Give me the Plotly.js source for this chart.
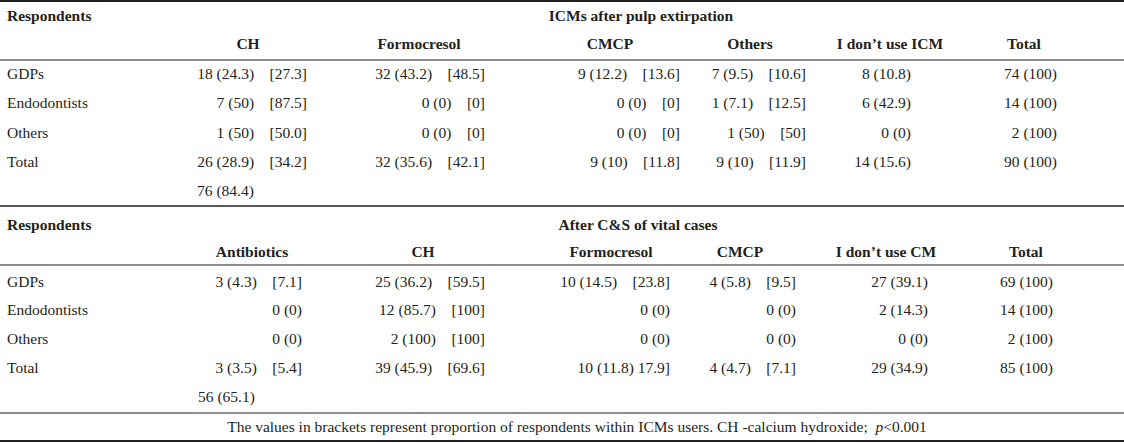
<!DOCTYPE html>
<html>
<head>
<meta charset="utf-8">
<script src="https://cdn.plot.ly/plotly-3.0.1.min.js"></script>
<style>html,body{margin:0;padding:0;background:#fff;}#chart{width:1124px;height:443px;}</style>
</head>
<body>
<div id="chart"></div>
<script>
// ---------- DATA ----------
const respondents = ["GDPs", "Endodontists", "Others", "Total"];

// Section 1: ICMs after pulp extirpation
const s1Title = "ICMs after pulp extirpation";
const s1Headers = ["CH", "Formocresol", "CMCP", "Others", "I don\u2019t use ICM", "Total"];
const s1CH          = ["18 (24.3)   [27.3]", "7 (50)   [87.5]", "1 (50)   [50.0]", "26 (28.9)   [34.2]"];
const s1Formocresol = ["32 (43.2)   [48.5]", "0 (0)   [0]", "0 (0)   [0]", "32 (35.6)   [42.1]"];
const s1CMCP        = ["9 (12.2)   [13.6]", "0 (0)   [0]", "0 (0)   [0]", "9 (10)   [11.8]"];
const s1Others      = ["7 (9.5)   [10.6]", "1 (7.1)   [12.5]", "1 (50)   [50]", "9 (10)   [11.9]"];
const s1NoICM       = ["8 (10.8)", "6 (42.9)", "0 (0)", "14 (15.6)"];
const s1Total       = ["74 (100)", "14 (100)", "2 (100)", "90 (100)"];
const s1UsersTotal  = "76 (84.4)";

// Section 2: After C&S of vital cases
const s2Title = "After C&S of vital cases";
const s2Headers = ["Antibiotics", "CH", "Formocresol", "CMCP", "I don\u2019t use CM", "Total"];
const s2Antibiotics = ["3 (4.3)   [7.1]", "0 (0)", "0 (0)", "3 (3.5)   [5.4]"];
const s2CH          = ["25 (36.2)   [59.5]", "12 (85.7)   [100]", "2 (100)   [100]", "39 (45.9)   [69.6]"];
const s2Formocresol = ["10 (14.5)   [23.8]", "0 (0)", "0 (0)", "10 (11.8) 17.9]"];
const s2CMCP        = ["4 (5.8)   [9.5]", "0 (0)", "0 (0)", "4 (4.7)   [7.1]"];
const s2NoCM        = ["27 (39.1)", "2 (14.3)", "0 (0)", "29 (34.9)"];
const s2Total       = ["69 (100)", "14 (100)", "2 (100)", "85 (100)"];
const s2UsersTotal  = "56 (65.1)";

const footnote = "The values in brackets represent proportion of respondents within ICMs users. CH -calcium hydroxide;\u00a0 <i>p</i>&lt;0.001";

// ---------- LAYOUT GEOMETRY (pixel-like axis units) ----------
const W = 1124, H = 443;
const labelX = 7;
const geo = {
  s1: { titleY: 17, headY: 45, rowY: [75, 104, 134, 163], extraY: 192,
        headX: [248, 419, 610, 750, 890, 1024], valX: [307, 485, 680, 806, 911, 1057], extraX: 197, titleX: 641 },
  s2: { titleY: 226, headY: 253, rowY: [283, 311, 340, 369], extraY: 398,
        headX: [252, 423, 611, 740, 886, 1026], valX: [302, 485, 670, 796, 928, 1053], extraX: 198, titleX: 638 }
};
const footY = 428, footX = 577;
const hLines = [{y: 1, w: 2}, {y: 60, w: 1.2}, {y: 206, w: 1.5}, {y: 265, w: 1.2}, {y: 413, w: 1.2}, {y: 441, w: 2}];

const nb = s => s.replace(/ {2,}/g, m => "\u00a0".repeat(m.length + 1));

const X = [], Y = [], T = [], P = [];
function add(x, y, t, p) { X.push(x); Y.push(y); T.push(nb(t)); P.push(p); }

function section(g, title, headers, cols, extra) {
  add(labelX, g.titleY, "<b>Respondents</b>", "middle right");
  add(g.titleX, g.titleY, "<b>" + title + "</b>", "middle center");
  headers.forEach((h, i) => add(g.headX[i], g.headY, "<b>" + h + "</b>", "middle center"));
  respondents.forEach((r, j) => {
    add(labelX, g.rowY[j], r, "middle right");
    cols.forEach((c, i) => add(g.valX[i], g.rowY[j], c[j], "middle left"));
  });
  add(g.extraX, g.extraY, extra, "middle right");
}
section(geo.s1, s1Title, s1Headers, [s1CH, s1Formocresol, s1CMCP, s1Others, s1NoICM, s1Total], s1UsersTotal);
section(geo.s2, s2Title.replace("&", "&amp;"), s2Headers, [s2Antibiotics, s2CH, s2Formocresol, s2CMCP, s2NoCM, s2Total], s2UsersTotal);
add(footX, footY, footnote, "middle center");

const trace = {
  type: "scatter", mode: "text", x: X, y: Y, text: T, textposition: P,
  textfont: { family: "Liberation Serif, Times New Roman, serif", size: 15.5, color: "#231f20" },
  hoverinfo: "skip", showlegend: false, cliponaxis: false
};

const layout = {
  width: W, height: H, margin: { l: 0, r: 0, t: 0, b: 0 },
  paper_bgcolor: "#ffffff", plot_bgcolor: "#ffffff",
  xaxis: { range: [0, W], visible: false, fixedrange: true },
  yaxis: { range: [H, 0], visible: false, fixedrange: true },
  shapes: hLines.map(l => ({ type: "line", xref: "x", yref: "y", x0: 0, x1: W, y0: l.y, y1: l.y,
                             line: { color: "#231f20", width: l.w } })),
  showlegend: false
};

Plotly.newPlot("chart", [trace], layout, { staticPlot: true, displayModeBar: false });
</script>
</body>
</html>
